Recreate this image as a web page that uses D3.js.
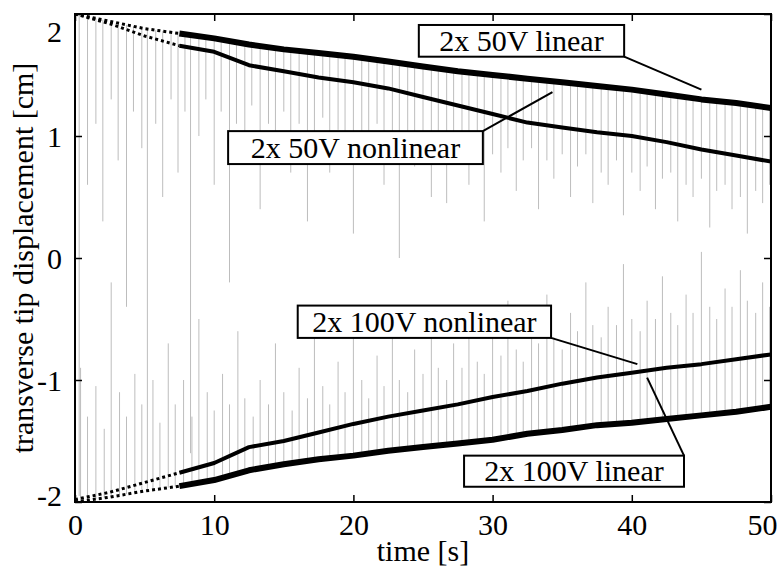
<!DOCTYPE html>
<meta charset="utf-8">
<script src="https://d3js.org/d3.v7.min.js"></script>
<style>
  body { margin: 0; background: #fff; }
</style>
<div id="my_dataviz"></div>
<script>

// sample times of the envelope curves [s]
var times = [0, 2.5, 5, 7.5, 10, 12.5, 15, 17.5, 20, 22.5, 25, 27.5, 30, 32.5, 35, 37.5, 40, 42.5, 45, 47.5, 50];

// envelope of the tip displacement [cm]
var lin50     = [2.0, 1.94, 1.88, 1.84, 1.80, 1.75, 1.71, 1.68, 1.65, 1.61, 1.57, 1.53, 1.50, 1.47, 1.44, 1.41, 1.38, 1.34, 1.30, 1.27, 1.23];
var nonlin50  = [2.0, 1.92, 1.82, 1.74, 1.69, 1.58, 1.53, 1.48, 1.44, 1.39, 1.32, 1.25, 1.18, 1.11, 1.07, 1.03, 1.00, 0.95, 0.89, 0.84, 0.79];
var nonlin100 = [-1.98, -1.92, -1.84, -1.76, -1.68, -1.55, -1.50, -1.43, -1.36, -1.30, -1.25, -1.20, -1.14, -1.09, -1.03, -0.98, -0.94, -0.90, -0.87, -0.83, -0.79];
var lin100    = [-2.0, -1.96, -1.91, -1.87, -1.82, -1.74, -1.69, -1.65, -1.62, -1.58, -1.55, -1.52, -1.49, -1.44, -1.41, -1.37, -1.35, -1.32, -1.29, -1.26, -1.22];

// thin oscillation strokes: [time, value reached]
var spikesDown = [[0.3,-1.95],[0.9,0.6],[1.5,1.1],[2.0,0.3],[2.6,1.3],[3.1,0.8],[3.7,-0.4],[4.2,1.2],[4.8,0.9],[5.2,-1.9],
  [5.8,1.1],[6.3,0.5],[6.9,1.3],[7.4,0.7],[7.9,1.2],[8.3,-1.6],[8.9,1.0],[9.4,1.3],[10.0,0.6],[10.5,1.2],
  [11.1,-0.2],[11.6,1.1],[12.2,0.9],[12.7,1.25],[13.3,0.4],[13.9,1.1],[14.4,0.8],[15.0,1.2],[15.5,0.7],[16.1,1.1],
  [16.7,0.3],[17.2,1.0],[17.8,1.15],[18.3,0.7],[18.9,1.05],[19.4,0.9],[20.0,0.2],[20.6,1.0],[21.1,0.8],[21.7,1.1],
  [22.2,0.6],[22.8,0.95],[23.3,0.0],[23.9,1.0],[24.4,0.75],[25.0,0.95],[25.6,0.5],[26.1,0.9],[26.7,0.45],[27.2,0.85],
  [27.8,1.0],[28.3,0.6],[28.9,0.9],[29.4,0.3],[30.0,0.85],[30.6,0.7],[31.1,0.9],[31.7,0.55],[32.2,0.8],[32.8,0.9],
  [33.3,0.4],[33.9,0.8],[34.4,0.65],[35.0,0.85],[35.6,0.5],[36.1,0.75],[36.7,0.85],[37.2,0.45],[37.8,0.7],[38.3,0.6],
  [38.9,0.8],[39.4,0.35],[40.0,0.7],[40.6,0.55],[41.1,0.75],[41.7,0.4],[42.2,0.65],[42.8,0.7],[43.3,0.3],[43.9,0.6],
  [44.4,0.5],[45.0,0.65],[45.6,0.25],[46.1,0.55],[46.7,0.6],[47.2,0.4],[47.8,0.5],[48.3,0.2],[48.9,0.55],[49.4,0.45],[49.9,0.6]];

var spikesUp = [[0.4,-0.9],[0.9,-1.3],[1.5,-1.05],[2.1,-1.4],[2.6,-0.2],[3.2,-1.1],[3.7,-1.3],[4.3,-0.95],[4.8,-1.2],
  [5.6,-1.0],[6.1,-1.35],[6.7,-0.7],[7.2,-1.2],[7.8,-1.0],[8.4,-1.3],[8.9,-0.5],[9.5,-1.1],[10.0,-1.25],[10.6,-0.95],
  [11.1,-1.2],[11.7,-0.6],[12.2,-1.15],[12.8,-1.3],[13.3,-1.0],[13.9,-1.2],[14.4,-0.7],[15.0,-1.1],[15.6,-1.25],[16.1,-0.9],
  [16.7,-1.15],[17.2,-0.6],[17.8,-1.05],[18.3,-1.2],[18.9,-0.85],[19.4,-1.1],[20.0,-0.5],[20.6,-1.0],[21.1,-1.15],[21.7,-0.8],
  [22.2,-1.05],[22.8,-0.65],[23.3,-1.0],[23.9,-1.1],[24.4,-0.75],[25.0,-0.95],[25.6,-0.4],[26.1,-0.9],[26.7,-1.0],[27.2,-0.7],
  [27.8,-0.9],[28.3,-0.55],[28.9,-0.85],[29.4,-0.95],[30.0,-0.6],[30.6,-0.8],[31.1,-0.35],[31.7,-0.75],[32.2,-0.85],[32.8,-0.55],
  [33.3,-0.7],[33.9,-0.3],[34.4,-0.65],[35.0,-0.75],[35.6,-0.45],[36.1,-0.6],[36.7,-0.2],[37.2,-0.55],[37.8,-0.65],[38.3,-0.4],
  [38.9,-0.55],[39.4,-0.05],[40.0,-0.5],[40.6,-0.6],[41.1,-0.35],[41.7,-0.5],[42.2,-0.15],[42.8,-0.45],[43.3,-0.55],[43.9,-0.3],
  [44.4,-0.45],[45.0,0.05],[45.6,-0.4],[46.1,-0.5],[46.7,-0.25],[47.2,-0.4],[47.8,-0.1],[48.3,-0.35],[48.9,-0.45],[49.4,-0.2],[49.9,-0.4]];

var xTicks = [0, 10, 20, 30, 40, 50];
var yTicks = [-2, -1, 0, 1, 2];
var labels = ["2x 50V linear", "2x 50V nonlinear", "2x 100V nonlinear", "2x 100V linear"];

var serif = "'Liberation Serif', 'Times New Roman', Times, 'Nimbus Roman', 'DejaVu Serif', serif";

// set the dimensions and margins of the graph
var margin = {top: 14, right: 7, bottom: 64, left: 75},
    width = 778 - margin.left - margin.right,
    height = 566 - margin.top - margin.bottom;

var svg = d3.select("#my_dataviz")
  .append("svg")
    .attr("width", 778)
    .attr("height", 566)
  .append("g")
    .attr("transform", "translate(" + margin.left + "," + margin.top + ")");

var x = d3.scaleLinear().domain([0, 50]).range([0, width]);
var y = d3.scaleLinear().domain([-2, 2]).range([height, 0]);

svg.append("clipPath").attr("id", "clip")
  .append("rect").attr("width", width).attr("height", height);

var plot = svg.append("g").attr("clip-path", "url(#clip)");

// envelopes as scales so the gray strokes start on the curve
var topEnv = d3.scaleLinear().domain(times).range(lin50);
var botEnv = d3.scaleLinear().domain(times).range(lin100);

plot.append("g").selectAll("line.down")
  .data(spikesDown).enter().append("line")
    .attr("x1", function(d) { return x(d[0]); })
    .attr("x2", function(d) { return x(d[0]); })
    .attr("y1", function(d) { return y(topEnv(d[0])); })
    .attr("y2", function(d) { return y(d[1]); })
    .style("stroke", "#bdbdbd")
    .style("stroke-width", 1);

plot.append("g").selectAll("line.up")
  .data(spikesUp).enter().append("line")
    .attr("x1", function(d) { return x(d[0]); })
    .attr("x2", function(d) { return x(d[0]); })
    .attr("y1", function(d) { return y(botEnv(d[0])); })
    .attr("y2", function(d) { return y(d[1]); })
    .style("stroke", "#bdbdbd")
    .style("stroke-width", 1);

// the four envelope bands
var series = [
  {vals: lin50, w: 6},
  {vals: nonlin50, w: 4},
  {vals: nonlin100, w: 4},
  {vals: lin100, w: 6}
];
var line = d3.line()
  .x(function(d) { return x(d[0]); })
  .y(function(d) { return y(d[1]); });

series.forEach(function(s) {
  var pts = times.map(function(t, i) { return [t, s.vals[i]]; });
  // early part looks dotted
  plot.append("path")
    .attr("d", line(pts.filter(function(p) { return p[0] <= 7.5; })))
    .style("fill", "none").style("stroke", "#000")
    .style("stroke-width", 3).style("stroke-dasharray", "3,3");
  plot.append("path")
    .attr("d", line(pts.filter(function(p) { return p[0] >= 7.5; })))
    .style("fill", "none").style("stroke", "#000")
    .style("stroke-width", s.w).style("stroke-linejoin", "round");
});

// axes with inward ticks on all four sides
var fmt = function(d) { return String(d); };

var xAxis = svg.append("g")
  .attr("transform", "translate(0," + height + ")")
  .call(d3.axisBottom(x).tickValues(xTicks).tickFormat(fmt)
    .tickSizeInner(-7).tickSizeOuter(0).tickPadding(12));
xAxis.selectAll("text")
  .attr("x", function(d) { return d == 50 ? -9 : 0; })
  .style("font-size", "30px");

var yAxis = svg.append("g")
  .call(d3.axisLeft(y).tickValues(yTicks).tickFormat(fmt)
    .tickSizeInner(-7).tickSizeOuter(0).tickPadding(13));
yAxis.selectAll("text")
  .attr("dy", function(d) { return d == 2 ? "0.9em" : (d == -2 ? "0.1em" : "0.36em"); })
  .style("font-size", "30px");

svg.append("g")
  .call(d3.axisTop(x).tickValues(xTicks).tickSizeInner(-7).tickSizeOuter(0).tickFormat(""));
svg.append("g")
  .attr("transform", "translate(" + width + ",0)")
  .call(d3.axisRight(y).tickValues(yTicks).tickSizeInner(-7).tickSizeOuter(0).tickFormat(""));

svg.selectAll(".domain").remove();
svg.selectAll(".tick line").style("stroke", "#000").style("stroke-width", 1.5);

svg.append("rect")
  .attr("width", width).attr("height", height)
  .style("fill", "none").style("stroke", "#000").style("stroke-width", 2);

// axis labels
svg.append("text")
  .attr("text-anchor", "middle")
  .attr("x", width / 2)
  .attr("y", height + 59)
  .style("font-size", "30px")
  .text("time [s]");

svg.append("text")
  .attr("text-anchor", "middle")
  .attr("transform", "translate(-42," + (height / 2) + ") rotate(-90)")
  .style("font-size", "30px")
  .text("transverse tip displacement [cm]");

// boxed labels with leader lines, positions in data units
var notes = [
  {box: [24.7, 39.45, 1.91, 1.65], from: [39.45, 1.65], to: [45.0, 1.38]},
  {box: [11.0, 29.3, 1.04, 0.77], from: [29.3, 1.04], to: [34.3, 1.36]},
  {box: [16.0, 34.2, -0.39, -0.655], from: [34.2, -0.655], to: [40.4, -0.87]},
  {box: [27.95, 43.75, -1.62, -1.875], from: [43.75, -1.62], to: [41.1, -0.98]}
];

notes.forEach(function(n, i) {
  svg.append("line")
    .attr("x1", x(n.from[0])).attr("y1", y(n.from[1]))
    .attr("x2", x(n.to[0])).attr("y2", y(n.to[1]))
    .style("stroke", "#000").style("stroke-width", 2);
  var bx = x(n.box[0]), bw = x(n.box[1]) - x(n.box[0]);
  var by = y(n.box[2]), bh = y(n.box[3]) - y(n.box[2]);
  svg.append("rect")
    .attr("x", bx).attr("y", by).attr("width", bw).attr("height", bh)
    .style("fill", "#fff").style("stroke", "#000").style("stroke-width", 2);
  svg.append("text")
    .attr("text-anchor", "middle")
    .attr("x", bx + bw / 2)
    .attr("y", by + bh - 6)
    .style("font-size", "30px")
    .text(labels[i]);
});

// serif type everywhere
d3.selectAll("text").style("font-family", serif).style("fill", "#000");

</script>
